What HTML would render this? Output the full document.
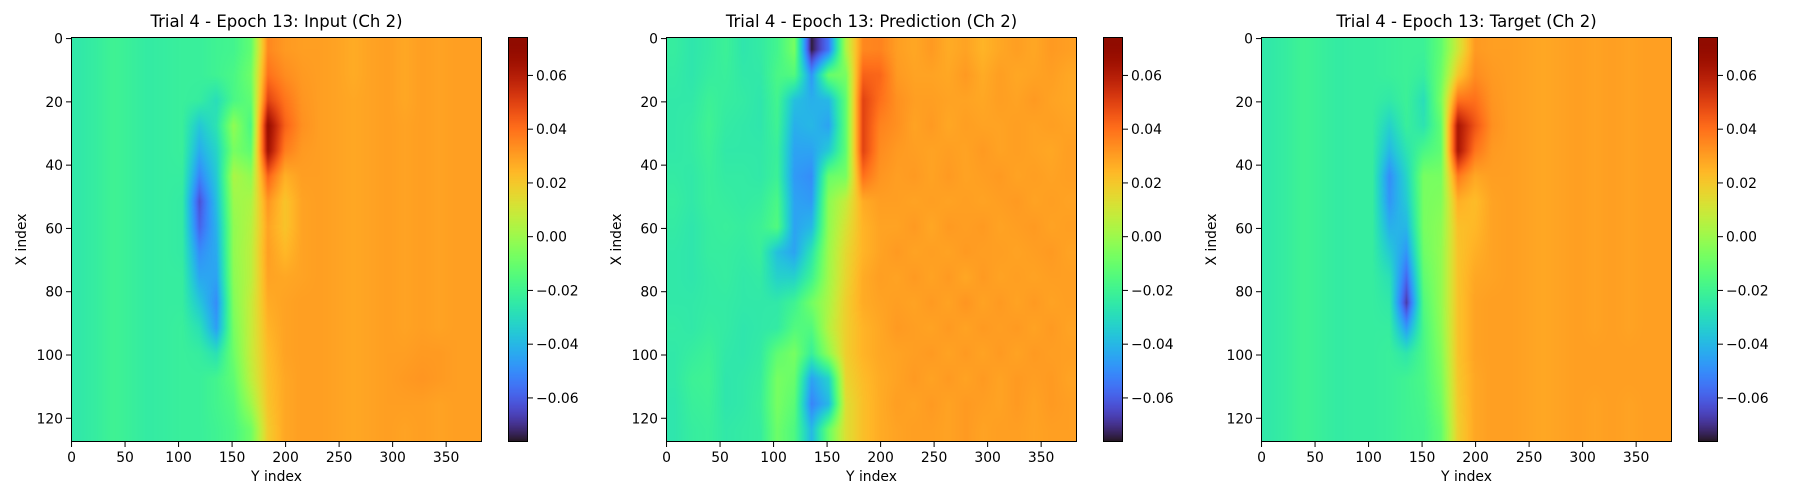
<!DOCTYPE html>
<html><head><meta charset="utf-8">
<style>
html,body{margin:0;padding:0;background:#fff;}
#fig{position:relative;width:1800px;height:500px;overflow:hidden;font-family:"DejaVu Sans","Liberation Sans",sans-serif;}
canvas{position:absolute;}
svg{position:absolute;left:0;top:0;}
</style></head>
<body>
<div id="fig">
<svg id="ov" width="1800" height="500"></svg>
</div>
<script>
// ---- data (values in units of 0.01) ----
const titles = ["Trial 4 - Epoch 13: Input (Ch 2)","Trial 4 - Epoch 13: Prediction (Ch 2)","Trial 4 - Epoch 13: Target (Ch 2)"];
const xTicks = [0,50,100,150,200,250,300,350];
const yTicks = [0,20,40,60,80,100,120];
const cbTicks = [-0.06,-0.04,-0.02,0.00,0.02,0.04,0.06];
const vMin = -0.0764, vMax = 0.0743;
const nX = 128, nY = 384;
const inputGrid = [
[-2.5,-2.3,-2.0,-2.2,-2.4,-2.3,-2.2,-2.2,-2.0,-1.9,-1.2,3.5,3.1,3.0,3.0,2.9,2.7,2.9,3.0,2.8,3.0,2.9,3.0,3.0],
[-2.5,-2.3,-2.0,-2.2,-2.4,-2.3,-2.2,-2.2,-2.0,-1.7,-0.9,4.0,3.4,3.1,3.0,2.9,2.7,2.9,3.0,2.8,3.0,2.9,3.0,3.0],
[-2.5,-2.3,-2.0,-2.2,-2.4,-2.3,-2.2,-2.3,-2.9,-1.7,-1.2,5.0,3.9,3.2,3.0,2.9,2.8,2.9,3.0,2.8,3.0,2.9,3.0,3.0],
[-2.5,-2.3,-2.0,-2.2,-2.4,-2.3,-2.2,-3.6,-2.7,-0.2,-1.7,6.8,4.3,3.3,3.0,2.9,2.8,2.9,3.0,2.9,3.0,2.9,3.0,3.0],
[-2.5,-2.3,-2.0,-2.2,-2.4,-2.3,-2.2,-4.3,-3.2,-0.7,-1.2,6.5,3.7,3.1,3.0,2.9,2.8,2.9,3.0,2.9,3.0,2.9,3.0,3.0],
[-2.5,-2.3,-2.0,-2.2,-2.4,-2.3,-2.3,-5.2,-3.5,0.3,-0.2,4.3,2.6,3.0,3.0,2.9,2.8,2.9,3.0,2.9,3.0,2.9,3.0,3.0],
[-2.5,-2.3,-2.0,-2.2,-2.4,-2.3,-2.4,-6.3,-3.8,0.0,0.3,3.2,2.1,2.9,3.0,2.9,2.8,2.9,3.0,2.9,3.0,2.9,3.0,3.0],
[-2.5,-2.3,-2.0,-2.2,-2.4,-2.3,-2.4,-5.9,-4.1,-0.2,0.5,2.9,2.1,2.9,3.0,2.9,2.8,2.9,3.0,2.9,3.0,2.9,3.0,3.0],
[-2.5,-2.3,-2.0,-2.2,-2.4,-2.3,-2.4,-5.0,-4.3,-0.2,0.6,3.0,2.4,2.9,3.0,2.9,2.8,2.9,3.0,2.9,3.0,2.9,3.0,3.0],
[-2.5,-2.3,-2.0,-2.2,-2.4,-2.3,-2.3,-4.4,-4.5,-0.3,0.6,2.9,2.8,2.9,3.0,2.9,2.8,2.9,3.0,2.9,3.0,2.9,3.0,3.0],
[-2.5,-2.3,-2.0,-2.2,-2.4,-2.3,-2.3,-3.6,-5.0,-0.5,0.8,2.7,2.9,3.0,3.0,2.9,2.8,2.9,3.0,2.9,3.0,2.9,3.0,3.0],
[-2.5,-2.3,-2.0,-2.2,-2.4,-2.3,-2.2,-2.8,-4.6,-0.7,0.8,2.5,2.9,3.0,3.0,2.9,2.8,2.9,3.0,2.9,3.0,2.9,3.0,3.0],
[-2.5,-2.3,-2.0,-2.2,-2.4,-2.3,-2.2,-2.3,-2.8,-0.9,0.8,2.3,2.9,3.0,3.0,2.9,2.8,2.9,3.0,3.0,3.1,3.1,3.0,3.0],
[-2.5,-2.3,-2.0,-2.2,-2.4,-2.3,-2.2,-2.2,-1.9,-1.2,0.6,2.2,2.8,3.0,3.0,2.9,2.8,2.9,3.0,3.1,3.2,3.1,3.0,3.0],
[-2.5,-2.3,-2.0,-2.2,-2.4,-2.3,-2.2,-2.2,-1.9,-1.5,0.0,2.1,2.8,3.0,3.0,2.9,2.8,2.9,3.0,3.0,3.0,2.9,3.0,3.0],
[-2.5,-2.3,-2.0,-2.2,-2.4,-2.3,-2.2,-2.2,-2.0,-1.7,-0.9,1.9,2.8,3.0,3.0,2.9,2.8,2.9,3.0,2.9,3.0,2.9,3.0,3.0]
];
const predGrid = [
[-2.3,-2.6,-2.4,-2.1,-2.6,-2.4,-1.9,-0.7,-7.5,-5.5,0.3,3.5,3.6,3.0,2.8,3.1,2.7,2.9,2.5,2.8,3.0,2.8,3.1,3.0],
[-2.4,-2.6,-2.3,-2.2,-2.5,-2.5,-1.7,-1.5,-4.8,-1.0,-0.7,4.3,4.2,3.1,2.9,2.9,2.8,3.1,2.7,3.0,2.8,2.9,3.0,2.8],
[-2.5,-2.5,-2.1,-2.3,-2.4,-2.6,-1.9,-3.8,-4.2,-4.0,-1.2,5.0,4.0,3.3,3.0,3.0,2.9,2.9,2.8,3.0,2.9,3.1,2.9,2.8],
[-2.5,-2.4,-2.0,-2.4,-2.5,-2.6,-2.0,-4.2,-4.0,-4.5,-1.2,5.0,3.6,3.3,2.9,3.1,2.8,3.0,2.9,2.9,3.0,2.9,3.0,2.9],
[-2.5,-2.4,-2.1,-2.5,-2.5,-2.5,-2.2,-4.5,-4.5,-3.5,-1.2,5.0,3.4,3.1,3.0,2.9,3.0,2.9,3.1,2.9,3.0,2.9,2.8,3.0],
[-2.4,-2.5,-2.2,-2.4,-2.4,-2.5,-2.1,-4.7,-5.0,-1.0,-0.7,4.0,3.2,3.0,3.1,2.9,3.1,2.9,3.0,3.1,2.9,3.0,2.9,3.0],
[-2.3,-2.5,-2.2,-2.3,-2.4,-2.3,-1.7,-4.5,-4.7,-0.3,0.8,2.7,3.0,3.0,2.9,3.0,2.9,3.0,2.9,3.0,3.1,2.9,3.0,2.9],
[-2.4,-2.6,-2.3,-2.2,-2.3,-2.1,-1.5,-4.5,-4.0,-0.2,1.2,2.5,2.9,2.9,3.1,2.8,3.1,3.0,3.1,2.9,3.0,3.1,2.9,3.0],
[-2.5,-2.6,-2.3,-2.3,-2.4,-2.2,-3.8,-4.5,-2.7,0.0,1.5,2.5,2.9,3.1,2.9,3.0,2.9,3.1,3.0,3.0,2.9,3.0,3.1,2.9],
[-2.5,-2.6,-2.4,-2.3,-2.5,-2.4,-3.3,-3.3,-2.0,0.1,1.6,2.7,3.0,2.9,3.1,2.9,3.1,2.8,3.1,2.9,3.0,2.9,3.0,3.0],
[-2.5,-2.5,-2.4,-2.4,-2.5,-2.5,-2.5,-2.0,-0.8,0.3,1.8,2.7,2.9,3.0,2.9,3.1,2.9,3.2,2.9,3.1,2.9,3.1,2.9,3.0],
[-2.4,-2.5,-2.3,-2.4,-2.6,-2.5,-2.4,-1.5,-1.5,0.5,1.8,2.5,2.8,3.1,3.0,2.9,3.1,2.9,3.1,3.0,3.1,2.9,3.1,2.9],
[-2.5,-2.3,-2.1,-2.5,-2.6,-2.4,-1.2,-0.7,-2.2,-0.2,1.8,2.5,2.8,2.9,3.0,3.1,2.9,3.1,2.9,3.1,2.9,3.1,3.0,3.0],
[-2.5,-2.1,-2.0,-2.6,-2.5,-2.3,-0.7,-1.0,-4.5,-3.3,1.6,2.3,2.7,2.9,3.1,2.9,3.1,2.9,3.1,2.9,3.1,3.0,3.1,2.9],
[-2.6,-2.2,-2.1,-2.6,-2.5,-2.2,-0.7,-1.3,-5.2,-4.0,1.3,2.2,2.7,3.0,2.9,3.1,2.9,3.1,3.0,2.9,3.1,2.9,3.1,3.0],
[-2.6,-2.3,-2.2,-2.5,-2.4,-2.3,-0.9,-1.6,-4.0,-1.0,1.3,2.2,2.7,2.9,3.0,3.0,2.9,3.1,2.9,3.0,3.0,2.9,3.0,3.0]
];
const targetGrid = [
[-2.5,-2.3,-2.0,-2.2,-2.4,-2.3,-2.3,-2.2,-2.1,-2.1,-1.2,1.0,3.1,3.0,3.0,2.9,2.8,2.9,3.0,2.9,3.0,2.9,3.0,3.0],
[-2.5,-2.3,-2.0,-2.2,-2.4,-2.3,-2.3,-2.2,-2.1,-2.3,-1.0,2.0,3.4,3.1,3.0,2.9,2.8,2.9,3.0,2.9,3.0,2.9,3.0,3.0],
[-2.5,-2.3,-2.0,-2.2,-2.4,-2.3,-2.3,-2.5,-2.1,-2.9,-0.7,4.0,4.0,3.2,3.0,2.9,2.8,2.9,3.0,2.9,3.0,2.9,3.0,3.0],
[-2.5,-2.3,-2.0,-2.2,-2.4,-2.3,-2.3,-3.3,-2.2,-2.7,-1.2,6.3,4.6,3.3,3.0,2.9,2.8,2.9,3.0,2.9,3.0,2.9,3.0,3.0],
[-2.5,-2.3,-2.0,-2.2,-2.4,-2.3,-2.3,-4.0,-2.7,-1.7,-1.2,6.3,3.9,3.1,3.0,2.9,2.8,2.9,3.0,2.9,3.0,2.9,3.0,3.0],
[-2.5,-2.3,-2.0,-2.2,-2.4,-2.3,-2.3,-5.0,-3.2,-0.7,-0.7,3.8,2.8,3.0,3.0,2.9,2.8,2.9,3.0,2.9,3.0,2.9,3.0,3.0],
[-2.5,-2.3,-2.0,-2.2,-2.4,-2.3,-2.3,-4.8,-3.5,-0.7,-0.5,2.6,2.3,2.9,3.0,2.9,2.8,2.9,3.0,2.9,3.0,2.9,3.0,3.0],
[-2.5,-2.3,-2.0,-2.2,-2.4,-2.3,-2.3,-4.2,-4.0,-0.7,-0.3,2.2,2.4,2.9,3.0,2.9,2.8,2.9,3.0,2.9,3.0,2.9,3.0,3.0],
[-2.5,-2.3,-2.0,-2.2,-2.4,-2.3,-2.3,-3.5,-4.8,-0.9,-0.2,2.1,2.6,2.9,3.0,2.9,2.8,2.9,3.0,2.9,3.0,2.9,3.0,3.0],
[-2.5,-2.3,-2.0,-2.2,-2.4,-2.3,-2.3,-2.8,-5.8,-1.2,-0.2,2.1,2.8,2.9,3.0,2.9,2.8,2.9,3.0,2.9,3.0,2.9,3.0,3.0],
[-2.5,-2.3,-2.0,-2.2,-2.4,-2.3,-2.3,-2.5,-6.8,-1.5,-0.2,2.1,2.9,3.0,3.0,2.9,2.8,2.9,3.0,2.9,3.0,2.9,3.0,3.0],
[-2.5,-2.3,-2.0,-2.2,-2.4,-2.3,-2.3,-2.3,-4.7,-1.7,-0.3,2.1,2.9,3.0,3.0,2.9,2.8,2.9,3.0,2.9,3.0,2.9,3.0,3.0],
[-2.5,-2.3,-2.0,-2.2,-2.4,-2.3,-2.3,-2.2,-2.6,-1.7,-0.5,2.1,2.9,3.0,3.0,2.9,2.8,2.9,3.0,3.0,3.0,3.0,3.0,3.0],
[-2.5,-2.3,-2.0,-2.2,-2.4,-2.3,-2.3,-2.2,-2.0,-1.7,-0.7,2.0,2.8,3.0,3.0,2.9,2.8,2.9,3.0,3.0,3.0,3.0,3.0,3.0],
[-2.5,-2.3,-2.0,-2.2,-2.4,-2.3,-2.3,-2.2,-2.0,-1.8,-0.9,1.9,2.8,3.0,3.0,2.9,2.8,2.9,3.0,2.9,3.0,2.9,3.0,3.0],
[-2.5,-2.3,-2.0,-2.2,-2.4,-2.3,-2.3,-2.2,-2.0,-1.9,-1.2,1.8,2.8,3.0,3.0,2.9,2.8,2.9,3.0,2.9,3.0,2.9,3.0,3.0]
];
const grids = [inputGrid, predGrid, targetGrid];
const panelNames = ["input","prediction","target"];

// ---- layout ----
const AX_L0 = 71, PANEL_STEP = 595, AX_T = 37, AX_W = 411, AX_H = 405, CB_OFF = 437, CB_W = 20;

function turbo(t){
  t = Math.max(0, Math.min(1, t));
  const r = 0.13572138 + t*(4.61539260 + t*(-42.66032258 + t*(132.13108234 + t*(-152.94239396 + t*59.28637943))));
  const g = 0.09140261 + t*(2.19418839 + t*(4.84296658 + t*(-14.18503333 + t*(4.27729857 + t*2.82956604))));
  const b = 0.10667330 + t*(12.64194608 + t*(-60.58204836 + t*(110.36276771 + t*(-89.90310912 + t*27.34824973))));
  return [Math.round(255*Math.max(0,Math.min(1,r))), Math.round(255*Math.max(0,Math.min(1,g))), Math.round(255*Math.max(0,Math.min(1,b)))];
}
function norm(v){ return (v - vMin) / (vMax - vMin); }

const fig = document.getElementById('fig');
const ov = document.getElementById('ov');
const NS = 'http://www.w3.org/2000/svg';
function sv(tag, attrs, parent){ const e = document.createElementNS(NS, tag); for (const k in attrs) e.setAttribute(k, attrs[k]); (parent||ov).appendChild(e); return e; }
function fmt(v){ const s = Math.abs(v).toFixed(2); return (v < -1e-9 ? '\u2212' : '') + s; }

grids.forEach((grid, p) => {
  const ox = AX_L0 + PANEL_STEP * p;
  const rows = grid.length, cols = grid[0].length;
  const cellX = nX / rows, cellY = nY / cols;
  const cv = document.createElement('canvas');
  
  
  cv.width = AX_W; cv.height = AX_H;
  cv.style.left = ox + 'px'; cv.style.top = AX_T + 'px';
  fig.insertBefore(cv, ov);
  const ctx = cv.getContext('2d');
  const img = ctx.createImageData(AX_W, AX_H);
  for (let py = 0; py < AX_H; py++) {
    const xi = (py + 0.5) / AX_H * nX;
    let fr = xi / cellX - 0.5; fr = Math.max(0, Math.min(rows - 1, fr));
    const r0 = Math.floor(fr), r1 = Math.min(rows - 1, r0 + 1), ar = fr - r0;
    for (let px = 0; px < AX_W; px++) {
      const yi = (px + 0.5) / AX_W * nY;
      let fc = yi / cellY - 0.5; fc = Math.max(0, Math.min(cols - 1, fc));
      const c0 = Math.floor(fc), c1 = Math.min(cols - 1, c0 + 1), ac = fc - c0;
      const v = (grid[r0][c0]*(1-ac) + grid[r0][c1]*ac)*(1-ar) + (grid[r1][c0]*(1-ac) + grid[r1][c1]*ac)*ar;
      const col = turbo(norm(v / 100));
      const i = (py * AX_W + px) * 4;
      img.data[i] = col[0]; img.data[i+1] = col[1]; img.data[i+2] = col[2]; img.data[i+3] = 255;
    }
  }
  ctx.putImageData(img, 0, 0);

  const cb = document.createElement('canvas');
  
  
  cb.width = CB_W; cb.height = AX_H;
  cb.style.left = (ox + CB_OFF) + 'px'; cb.style.top = AX_T + 'px';
  fig.insertBefore(cb, ov);
  const cctx = cb.getContext('2d');
  for (let y = 0; y < AX_H; y++) {
    const c = turbo(1 - (y + 0.5) / AX_H);
    cctx.fillStyle = 'rgb(' + c.join(',') + ')';
    cctx.fillRect(0, y, CB_W, 1);
  }

  const g = sv('g', {});
  
  
  const fr1 = sv('rect', {x: ox + 0.5, y: AX_T + 0.5, width: AX_W - 1, height: AX_H - 1, fill: 'none', stroke: '#000', 'stroke-width': 1}, g);
  
  
  const fr2 = sv('rect', {x: ox + CB_OFF + 0.5, y: AX_T + 0.5, width: CB_W - 1, height: AX_H - 1, fill: 'none', stroke: '#000', 'stroke-width': 1}, g);
  
  
  const t = sv('text', {x: ox + AX_W / 2, y: AX_T - 10, 'text-anchor': 'middle', 'font-size': 16.5, fill: '#000'}, g);
  t.textContent = titles[p];
  
  
  const sx = v => ox + (v + 0.5) / nY * AX_W;
  const sy = v => AX_T + (v + 0.5) / nX * AX_H;
  xTicks.forEach(v => {
    const x = sx(v);
    sv('line', {x1: x, x2: x, y1: AX_T + AX_H, y2: AX_T + AX_H + 5, stroke: '#000', 'stroke-width': 1}, g);
    const tx = sv('text', {x: x, y: AX_T + AX_H + 20, 'text-anchor': 'middle', 'font-size': 13.9, fill: '#000'}, g);
    tx.textContent = v;
    
    
  });
  yTicks.forEach(v => {
    const y = sy(v);
    sv('line', {x1: ox - 5, x2: ox, y1: y, y2: y, stroke: '#000', 'stroke-width': 1}, g);
    const ty = sv('text', {x: ox - 8, y: y + 5, 'text-anchor': 'end', 'font-size': 13.9, fill: '#000'}, g);
    ty.textContent = v;
    
    
  });
  const cx = ox + CB_OFF + CB_W;
  cbTicks.forEach(v => {
    const y = AX_T + (vMax - v) / (vMax - vMin) * AX_H;
    sv('line', {x1: cx, x2: cx + 5, y1: y, y2: y, stroke: '#000', 'stroke-width': 1}, g);
    const tc = sv('text', {x: cx + 8, y: y + 5, 'font-size': 13.9, fill: '#000'}, g);
    tc.textContent = fmt(v);
    
    
  });
  const xl = sv('text', {x: ox + AX_W / 2, y: 481, 'text-anchor': 'middle', 'font-size': 13.9, fill: '#000'}, g);
  xl.textContent = 'Y index';
  
  
  const yl = sv('text', {x: 0, y: 0, 'text-anchor': 'middle', 'font-size': 13.9, fill: '#000', transform: 'translate(' + (ox - 45) + ',' + (AX_T + AX_H / 2) + ') rotate(-90)'}, g);
  yl.textContent = 'X index';
  
  
});
</script>
</body></html>
